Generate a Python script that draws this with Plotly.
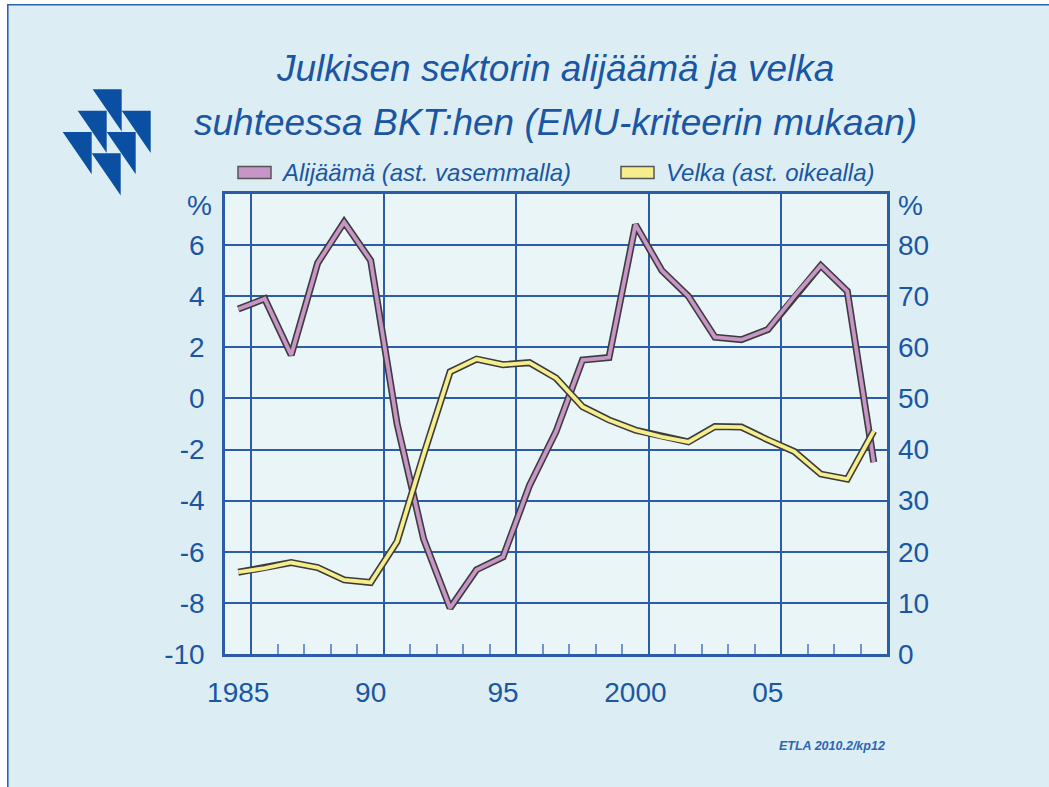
import plotly.graph_objects as go

# ---------------- data ----------------
years = list(range(1985, 2010))
deficit = [3.5, 3.9, 1.7, 5.3, 6.9, 5.4, -1.0, -5.5, -8.2, -6.7, -6.2, -3.4, -1.3,
           1.5, 1.6, 6.8, 5.0, 4.0, 2.4, 2.3, 2.7, 4.0, 5.2, 4.2, -2.5]
debt = [16.0, 16.8, 17.9, 16.9, 14.5, 14.0, 22.0, 39.0, 55.2, 57.7, 56.6, 57.0, 54.0,
        48.4, 45.8, 43.8, 42.5, 41.5, 44.5, 44.4, 41.9, 39.6, 35.2, 34.2, 43.6]
x_tickvals = [1985, 1990, 1995, 2000, 2005]
x_ticktext = ["1985", "90", "95", "2000", "05"]
left_ticks = [-10, -8, -6, -4, -2, 0, 2, 4, 6]
right_ticks = [0, 10, 20, 30, 40, 50, 60, 70, 80]
title_lines = ["Julkisen sektorin alijäämä ja velka",
               "suhteessa BKT:hen (EMU-kriteerin mukaan)"]
legend_names = ["Alijäämä (ast. vasemmalla)", "Velka (ast. oikealla)"]
source_text = "ETLA 2010.2/kp12"

# ---------------- style ----------------
FONT = "Liberation Sans, Arial, sans-serif"
BLUE = "#1b56a3"
GRID = "#2a5ca8"
OUT_BG = "#dceef3"
PLOT_BG = "#eaf5f8"
PINK = "#c895c7"
YELLOW = "#f6ee8c"
EDGE = "#3c3c3c"
LOGO = "#0b4fa2"

W_FIG, H_FIG = 1049, 787
L, R, T, B = 225, 162, 194, 133
PW, PH = W_FIG - L - R, H_FIG - T - B


def px(x):
    return (x - L) / PW


def py(y):
    return (H_FIG - B - y) / PH


fig = go.Figure()

# deficit (left axis)
fig.add_trace(go.Scatter(x=years, y=deficit, mode="lines", xaxis="x", yaxis="y",
                         line=dict(color=EDGE, width=7), showlegend=False, hoverinfo="skip"))
fig.add_trace(go.Scatter(x=years, y=deficit, mode="lines", xaxis="x", yaxis="y",
                         line=dict(color=PINK, width=3.8), name=legend_names[0], showlegend=False))
# debt (right axis)
fig.add_trace(go.Scatter(x=years, y=debt, mode="lines", xaxis="x", yaxis="y2",
                         line=dict(color=EDGE, width=7), showlegend=False, hoverinfo="skip"))
fig.add_trace(go.Scatter(x=years, y=debt, mode="lines", xaxis="x", yaxis="y2",
                         line=dict(color=YELLOW, width=3.8), name=legend_names[1], showlegend=False))
# dummy trace so the grid axis is surely drawn
fig.add_trace(go.Scatter(x=[None], y=[None], xaxis="x2", yaxis="y", showlegend=False,
                         hoverinfo="skip"))

xr = [1984.5, 2009.5]
fig.update_layout(
    width=W_FIG, height=H_FIG,
    margin=dict(l=L, r=R, t=T, b=B),
    paper_bgcolor=OUT_BG, plot_bgcolor=PLOT_BG,
    showlegend=False,
    font=dict(family=FONT, color=BLUE),
    xaxis=dict(range=xr, tickmode="array", tickvals=x_tickvals, ticktext=x_ticktext,
               showgrid=False, zeroline=False, showline=True, mirror=True,
               linecolor=GRID, linewidth=2.5, ticks="", ticklabelstandoff=12,
               tickfont=dict(size=28, color=BLUE, family=FONT)),
    xaxis2=dict(range=xr, overlaying="x", anchor="y", side="bottom",
                tickmode="linear", tick0=1985.5, dtick=5, showticklabels=False,
                showgrid=True, gridcolor=GRID, gridwidth=2, zeroline=False,
                ticks="inside", ticklen=10, tickwidth=2, tickcolor=GRID,
                minor=dict(ticks="inside", tickmode="linear", tick0=1984.5, dtick=1,
                           ticklen=10, tickwidth=1.5, tickcolor="#7095cb", showgrid=False)),
    yaxis=dict(range=[-10, 8], tickmode="array", tickvals=left_ticks,
               ticktext=[str(v) for v in left_ticks],
               showgrid=True, gridcolor=GRID, gridwidth=2, zeroline=False,
               showline=True, mirror=True, linecolor=GRID, linewidth=2.5,
               ticks="", ticklabelstandoff=12,
               tickfont=dict(size=28, color=BLUE, family=FONT)),
    yaxis2=dict(range=[0, 90], overlaying="y", side="right", anchor="x",
                tickmode="array", tickvals=right_ticks,
                ticktext=[str(v) for v in right_ticks],
                showgrid=False, zeroline=False, ticks="", ticklabelstandoff=10,
                tickfont=dict(size=28, color=BLUE, family=FONT)),
)

ann = []
# title
for txt, yy in [(title_lines[0], 68), (title_lines[1], 123)]:
    ann.append(dict(text="<i>" + txt + "</i>", x=px(555), y=py(yy), xref="paper", yref="paper",
                    xanchor="center", yanchor="middle", showarrow=False,
                    font=dict(size=37, color=BLUE, family=FONT)))
# legend texts
ann.append(dict(text="<i>" + legend_names[0] + "</i>", x=px(279), y=py(173), xref="paper", yref="paper",
                xanchor="left", yanchor="middle", showarrow=False,
                font=dict(size=24, color=BLUE, family=FONT)))
ann.append(dict(text="<i>" + legend_names[1] + "</i>", x=px(664), y=py(173), xref="paper", yref="paper",
                xanchor="left", yanchor="middle", showarrow=False,
                font=dict(size=24, color=BLUE, family=FONT)))
# % labels
ann.append(dict(text="%", x=px(214), y=py(205), xref="paper", yref="paper",
                xanchor="right", yanchor="middle", showarrow=False,
                font=dict(size=28, color=BLUE, family=FONT)))
ann.append(dict(text="%", x=px(896), y=py(205), xref="paper", yref="paper",
                xanchor="left", yanchor="middle", showarrow=False,
                font=dict(size=28, color=BLUE, family=FONT)))
# source
ann.append(dict(text="<i><b>" + source_text + "</b></i>", x=px(887), y=py(746), xref="paper", yref="paper",
                xanchor="right", yanchor="middle", showarrow=False,
                font=dict(size=12.5, color="#2a66b4", family=FONT)))
fig.update_layout(annotations=ann)

shapes = []
# legend swatches
for x0, col in [(238, PINK), (621, YELLOW)]:
    shapes.append(dict(type="rect", xref="paper", yref="paper",
                       x0=px(x0), x1=px(x0 + 33), y0=py(166.5), y1=py(178.5),
                       fillcolor=col, line=dict(color="#555555", width=1.5), layer="above"))
# logo: right triangles
tw, th = 29, 42.3
for (lx, ly) in [(92.7, 89.3), (77.7, 110.7), (121.7, 110.7), (62.7, 132.0),
                 (106.7, 132.0), (91.7, 153.3)]:
    path = "M {:.5f} {:.5f} L {:.5f} {:.5f} L {:.5f} {:.5f} Z".format(
        px(lx), py(ly), px(lx + tw), py(ly), px(lx + tw), py(ly + th))
    shapes.append(dict(type="path", xref="paper", yref="paper", path=path,
                       fillcolor=LOGO, line=dict(width=0), layer="above"))
# outer frame: white margins + blue border lines at left and top
shapes.append(dict(type="rect", xref="paper", yref="paper", x0=px(-5), x1=px(7), y0=py(-5), y1=py(800),
                   fillcolor="white", line=dict(width=0), layer="above"))
shapes.append(dict(type="rect", xref="paper", yref="paper", x0=px(-5), x1=px(1060), y0=py(-5), y1=py(4),
                   fillcolor="white", line=dict(width=0), layer="above"))
shapes.append(dict(type="line", xref="paper", yref="paper", x0=px(7.8), x1=px(7.8), y0=py(4.5), y1=py(800),
                   line=dict(color="#2c64b0", width=1.6), layer="above"))
shapes.append(dict(type="line", xref="paper", yref="paper", x0=px(7), x1=px(1060), y0=py(4.8), y1=py(4.8),
                   line=dict(color="#2c64b0", width=1.6), layer="above"))
fig.update_layout(shapes=shapes)

fig.write_html("out.html", config={"displayModeBar": False},
               post_script="document.body.style.margin='0';")
